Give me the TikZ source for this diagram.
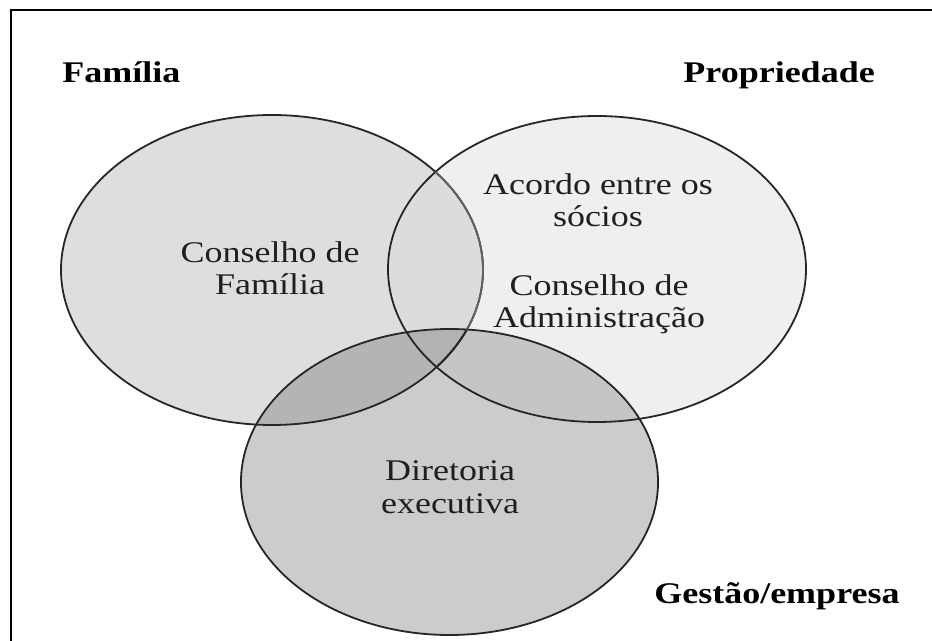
\documentclass[tikz,border=0pt]{standalone}
\usepackage{fontspec}
\setmainfont[FakeStretch=1.2]{Liberation Serif}
\begin{document}
\begin{tikzpicture}[x=0.75pt,y=-0.75pt,
  outline/.style={draw=black!85,line width=1.35pt},
  settext/.style={inner sep=0pt,align=center,text=black!88,
    font=\fontsize{22.5}{24.5}\selectfont},
  title/.style={inner sep=0pt,text=black,
    font=\fontsize{22.5}{24.5}\selectfont\bfseries}]
\definecolor{famc}{HTML}{DEDEDE}
\definecolor{propc}{HTML}{EFEFEF}
\definecolor{fpc}{HTML}{DCDCDC}
\definecolor{gestc}{HTML}{CCCCCC}
\definecolor{fgc}{HTML}{B4B4B4}
\definecolor{pgc}{HTML}{C5C5C5}
\definecolor{fpgc}{HTML}{B2B2B2}
\def\famE{(272,270) ellipse [x radius=158.25pt, y radius=116.25pt]}
\def\propE{(597,269) ellipse [x radius=156.75pt, y radius=114.75pt]}
\def\gestE{(449.5,482) ellipse [x radius=156.4pt, y radius=114.75pt]}
\useasboundingbox (0,0) rectangle (932,641);
\fill[white] (0,0) rectangle (932,641);
% frame (top and left)
\coordinate (ftl) at (11,10);
\coordinate (ftr) at (932,10);
\coordinate (fbl) at (11,641);
\draw[line width=2pt] (ftr) -- (ftl) -- (fbl);
% fills
\fill[famc] \famE;
\fill[propc] \propE;
\begin{scope}\clip \famE; \fill[fpc] \propE; \end{scope}
\fill[gestc] \gestE;
\begin{scope}\clip \gestE; \fill[fgc] \famE; \end{scope}
\begin{scope}\clip \gestE; \fill[pgc] \propE; \end{scope}
\begin{scope}\clip \gestE; \clip \famE; \fill[fpgc] \propE; \end{scope}
% outlines
\path[outline] \famE;
\path[outline] \propE;
\path[outline] \gestE;
\begin{scope}\clip \propE;
  \path[outline,draw=black!62] \famE;
  \begin{scope}\clip \gestE; \path[outline] \famE; \end{scope}
\end{scope}
% titles
\node[title,anchor=base west] (tfam) at (62,83) {Família};
\node[title,anchor=base east] (tprop) at (875,83) {Propriedade};
\node[title,anchor=base west] (tgest) at (654,603) {Gestão/empresa};
% inner labels (base anchor = baseline of the last line)
\node[settext,anchor=base] (cf) at (270,295) {Conselho de\\Família};
\node[settext,anchor=base] (ac) at (598,227) {Acordo entre os\\sócios};
\node[settext,anchor=base] (ca) at (599,328) {Conselho de\\Administração};
\node[settext,anchor=base] (de) at (450,513) {Diretoria\\executiva};
\end{tikzpicture}
\end{document}
